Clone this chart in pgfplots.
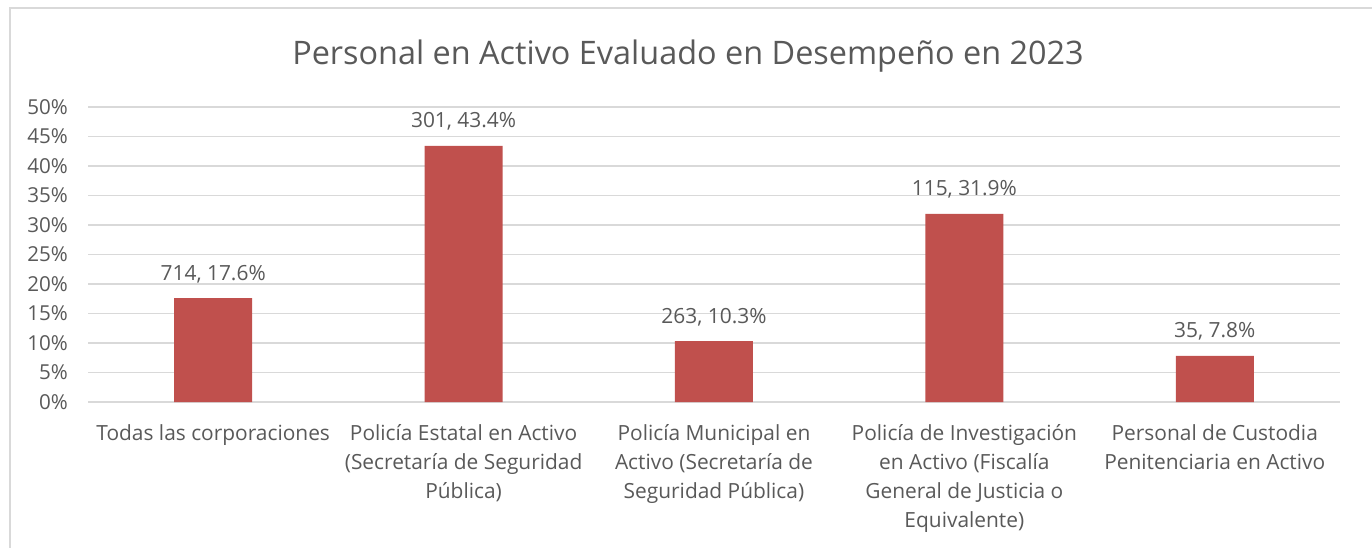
\documentclass[border=0pt]{standalone}
\usepackage{fontspec}
\setmainfont{Open Sans}
\usepackage{pgfplots}
\pgfplotsset{compat=1.18}
\usepackage{pgfplotstable}
\definecolor{barc}{HTML}{C0504D}
\definecolor{txt}{HTML}{595959}
\definecolor{gridc}{HTML}{D9D9D9}
\pgfplotstableread{
x y label
0 17.6 {714, 17.6\%}
1 43.4 {301, 43.4\%}
2 10.3 {263, 10.3\%}
3 31.9 {115, 31.9\%}
4 7.8 {35, 7.8\%}
}\data
\begin{document}
\begin{tikzpicture}
\path[use as bounding box] (0,0) rectangle (1372bp,548bp);
\draw[gridc, line width=1.5bp] (10bp,-10bp) -- (10bp,540bp) -- (1390bp,540bp);
\node[txt, anchor=base, inner sep=0pt, font=\fontsize{32.4bp}{38bp}\selectfont] at (688bp,483bp) {Personal en Activo Evaluado en Desempeño en 2023};
\begin{axis}[
  at={(88bp,146bp)}, anchor=south west,
  scale only axis, width=1252bp, height=295bp,
  xmin=-0.5, xmax=4.5, ymin=0, ymax=50,
  axis x line*=bottom, axis y line*=left,
  x axis line style={gridc, line width=1.2bp},
  y axis line style={draw=none},
  major tick length=0,
  ymajorgrids, grid style={gridc, line width=1.2bp},
  ytick={0,5,...,50},
  yticklabels={0\%,5\%,10\%,15\%,20\%,25\%,30\%,35\%,40\%,45\%,50\%},
  yticklabel style={anchor=east, inner sep=0pt, xshift=-20bp, text=txt, font=\fontsize{20.6bp}{29bp}\selectfont},
  xtick={0,1,2,3,4},
  xticklabels={{Todas las corporaciones},{Policía Estatal en Activo\\(Secretaría de Seguridad\\Pública)},{Policía Municipal en\\Activo (Secretaría de\\Seguridad Pública)},{Policía de Investigación\\en Activo (Fiscalía\\General de Justicia o\\Equivalente)},{Personal de Custodia\\Penitenciaria en Activo}},
  xticklabel style={anchor=north, align=center, inner sep=0pt, yshift=-22bp, text=txt, font=\fontsize{20.9bp}{29bp}\selectfont},
  ybar, bar width=78bp,
  nodes near coords, point meta=explicit symbolic,
  every node near coord/.append style={anchor=base, inner sep=0pt, yshift=18bp, text=txt, font=\fontsize{20.9bp}{29bp}\selectfont},
  clip=false,
]
\addplot[fill=barc, draw=none] table[x=x, y=y, meta=label] {\data};
\end{axis}
\end{tikzpicture}
\end{document}
